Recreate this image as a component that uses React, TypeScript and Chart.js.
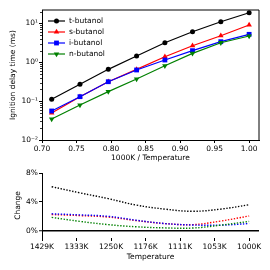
import React, { useEffect, useRef } from "react";
import { Chart, registerables } from "chart.js";

Chart.register(...registerables);

// ---- data ----
const invT = [0.714, 0.755, 0.796, 0.837, 0.878, 0.918, 0.959, 1.0];
const seriesLabels = ["t-butanol", "s-butanol", "i-butanol", "n-butanol"];
const tButanol = [0.111, 0.27, 0.656, 1.44, 3.17, 6.08, 11.0, 18.7];
const sButanol = [0.0494, 0.13, 0.315, 0.656, 1.38, 2.66, 4.8, 9.04];
const iButanol = [0.0557, 0.13, 0.315, 0.631, 1.14, 1.98, 3.37, 5.21];
const nButanol = [0.0347, 0.0794, 0.175, 0.37, 0.81, 1.69, 3.17, 4.72];

const tChange = [6.1, 5.25, 4.45, 3.55, 3.0, 2.7, 3.0, 3.6];
const sChange = [2.25, 2.1, 1.9, 1.4, 1.0, 0.85, 1.35, 2.05];
const iChange = [2.35, 2.2, 2.0, 1.45, 1.0, 0.8, 0.78, 1.0];
const nChange = [1.85, 1.3, 0.85, 0.55, 0.4, 0.38, 0.78, 1.3];

const xTicks = [0.7, 0.75, 0.8, 0.85, 0.9, 0.95, 1.0];
const yMajorTicks = [0.01, 0.1, 1, 10];
const changeTicks = [0, 4, 8];

// ---- style ----
const colors = ["#000000", "#ff0000", "#0000ff", "#008000"];
const pointStyles = ["circle", "triangle", "rect", "triangle"];
const pointRadii = [2.5, 3.2, 3.4, 3.2];
const pointRotations = [0, 0, 0, 180];
const FONT = { family: "'DejaVu Sans', sans-serif", size: 7.5 };

const SUP: Record<string, string> = {
  "0": "⁰", "1": "¹", "2": "²", "3": "³", "4": "⁴",
  "5": "⁵", "6": "⁶", "7": "⁷", "8": "⁸", "9": "⁹", "-": "⁻",
};
const sup = (v: number) => {
  const e = String(Math.round(Math.log10(v)));
  return "10" + e.split("").map((c) => SUP[c]).join("");
};

const framePlugin = {
  id: "frame",
  afterDraw(chart: any) {
    const { ctx, chartArea: a } = chart;
    ctx.save();
    ctx.strokeStyle = "#000";
    ctx.lineWidth = 1;
    ctx.beginPath();
    ctx.moveTo(a.left, a.top);
    ctx.lineTo(a.right, a.top);
    ctx.lineTo(a.right, a.bottom);
    ctx.stroke();
    ctx.restore();
  },
};

const minorTickPlugin = {
  id: "minorTicks",
  afterDraw(chart: any) {
    const s = chart.scales.y;
    const { ctx, chartArea: a } = chart;
    ctx.save();
    ctx.strokeStyle = "#000";
    ctx.lineWidth = 0.8;
    for (let d = -2; d <= 1; d++) {
      for (let m = 2; m <= 9; m++) {
        const v = m * Math.pow(10, d);
        if (v > s.max) continue;
        const y = Math.round(s.getPixelForValue(v)) + 0.5;
        ctx.beginPath();
        ctx.moveTo(a.left - 2, y);
        ctx.lineTo(a.left, y);
        ctx.stroke();
      }
    }
    ctx.restore();
  },
};

function drawMarker(ctx: CanvasRenderingContext2D, ds: any, x: number, y: number) {
  const r = ds.pointRadius;
  const rot = ((ds.pointRotation || 0) * Math.PI) / 180;
  ctx.fillStyle = ds.backgroundColor;
  ctx.beginPath();
  if (ds.pointStyle === "circle") {
    ctx.arc(x, y, r, 0, Math.PI * 2);
  } else if (ds.pointStyle === "rect") {
    const s = Math.SQRT1_2 * r;
    ctx.rect(x - s, y - s, 2 * s, 2 * s);
  } else {
    let rad = rot;
    ctx.moveTo(x + Math.sin(rad) * r, y - Math.cos(rad) * r);
    rad += (2 * Math.PI) / 3;
    ctx.lineTo(x + Math.sin(rad) * r, y - Math.cos(rad) * r);
    rad += (2 * Math.PI) / 3;
    ctx.lineTo(x + Math.sin(rad) * r, y - Math.cos(rad) * r);
    ctx.closePath();
  }
  ctx.fill();
}

const legendPlugin = {
  id: "innerLegend",
  afterDatasetsDraw(chart: any) {
    const { ctx, chartArea: a } = chart;
    ctx.save();
    chart.data.datasets.forEach((ds: any, i: number) => {
      const y = a.top + 11 + i * 11;
      ctx.strokeStyle = ds.borderColor;
      ctx.lineWidth = ds.borderWidth;
      ctx.beginPath();
      ctx.moveTo(a.left + 6, y);
      ctx.lineTo(a.left + 23, y);
      ctx.stroke();
      drawMarker(ctx, ds, a.left + 14.5, y);
      ctx.fillStyle = "#000";
      ctx.font = `${FONT.size}px ${FONT.family}`;
      ctx.textBaseline = "middle";
      ctx.textAlign = "left";
      ctx.fillText(ds.label, a.left + 27, y);
    });
    ctx.restore();
  },
};

export default function App() {
  const topRef = useRef<HTMLCanvasElement>(null);
  const botRef = useRef<HTMLCanvasElement>(null);

  useEffect(() => {
    const topSeries = [tButanol, sButanol, iButanol, nButanol];
    const botSeries = [tChange, sChange, iChange, nChange];

    const top = new Chart(topRef.current!, {
      type: "line",
      data: {
        datasets: topSeries.map((s, i) => ({
          label: seriesLabels[i],
          data: invT.map((x, j) => ({ x, y: s[j] })),
          borderColor: colors[i],
          backgroundColor: colors[i],
          borderWidth: 1.2,
          pointStyle: pointStyles[i],
          pointRadius: pointRadii[i],
          pointRotation: pointRotations[i],
          pointBorderWidth: 0,
          order: 3 - i,
          tension: 0,
        })),
      } as any,
      options: {
        animation: false,
        responsive: false,
        maintainAspectRatio: false,
        layout: { padding: { top: 10, right: 11, left: 0, bottom: 0 } },
        plugins: { legend: { display: false }, tooltip: { enabled: false } },
        scales: {
          x: {
            type: "linear",
            min: 0.7,
            max: 1.0143,
            afterBuildTicks: (s: any) => {
              s.ticks = xTicks.map((v) => ({ value: v }));
            },
            afterFit: (s: any) => {
              s.height = 26;
              s.paddingLeft = 0;
              s.paddingRight = 0;
            },
            ticks: {
              callback: (v: any) => Number(v).toFixed(2),
              color: "#000",
              font: FONT,
              padding: 2,
              maxRotation: 0,
              autoSkip: false,
            },
            grid: { drawOnChartArea: false, tickLength: 3, color: "#000" },
            border: { color: "#000", width: 1 },
            title: {
              display: true,
              text: "1000K / Temperature",
              color: "#000",
              font: FONT,
              padding: { top: 0, bottom: 3.6 },
            },
          },
          y: {
            type: "logarithmic",
            min: 0.01,
            max: 22,
            afterBuildTicks: (s: any) => {
              s.ticks = yMajorTicks.map((v) => ({ value: v }));
            },
            afterFit: (s: any) => {
              s.width = 42;
              s.paddingTop = 0;
              s.paddingBottom = 0;
            },
            ticks: {
              callback: (v: any) => sup(Number(v)),
              color: "#000",
              font: FONT,
              padding: 1,
              autoSkip: false,
            },
            grid: { drawOnChartArea: false, tickLength: 3, color: "#000" },
            border: { color: "#000", width: 1 },
            title: {
              display: true,
              text: "Ignition delay time (ms)",
              color: "#000",
              font: FONT,
              padding: { top: 9, bottom: 0 },
            },
          },
        },
      } as any,
      plugins: [framePlugin, minorTickPlugin, legendPlugin],
    });

    const bot = new Chart(botRef.current!, {
      type: "line",
      data: {
        datasets: botSeries.map((s, i) => ({
          label: seriesLabels[i],
          data: invT.map((x, j) => ({ x, y: s[j] })),
          borderColor: colors[i],
          borderWidth: 1.4,
          borderDash: [1.4, 1.6],
          borderCapStyle: "butt",
          pointRadius: 0,
          order: 3 - i,
          tension: 0.4,
        })),
      } as any,
      options: {
        animation: false,
        responsive: false,
        maintainAspectRatio: false,
        layout: { padding: { top: 7, right: 11, left: 0, bottom: 0 } },
        plugins: { legend: { display: false }, tooltip: { enabled: false } },
        scales: {
          x: {
            type: "linear",
            min: 0.7,
            max: 1.0143,
            afterBuildTicks: (s: any) => {
              s.ticks = xTicks.map((v) => ({ value: v }));
            },
            afterFit: (s: any) => {
              s.height = 32;
              s.paddingLeft = 0;
              s.paddingRight = 0;
            },
            ticks: {
              callback: (v: any) => Math.round(1000 / Number(v)) + "K",
              color: "#000",
              font: FONT,
              padding: 2,
              maxRotation: 0,
              autoSkip: false,
            },
            grid: { drawOnChartArea: false, tickLength: 3, color: "#000" },
            border: { display: false },
            title: {
              display: true,
              text: "Temperature",
              color: "#000",
              font: FONT,
              padding: { top: 0, bottom: 8 },
            },
          },
          y: {
            type: "linear",
            min: -1,
            max: 8,
            afterBuildTicks: (s: any) => {
              s.ticks = changeTicks.map((v) => ({ value: v }));
            },
            afterFit: (s: any) => {
              s.width = 42;
              s.paddingTop = 0;
              s.paddingBottom = 0;
            },
            ticks: {
              callback: (v: any) => Number(v) + "%",
              color: "#000",
              font: FONT,
              padding: 1,
              autoSkip: false,
            },
            grid: {
              drawOnChartArea: true,
              tickLength: 3,
              color: (c: any) => (c.tick && c.tick.value === 0 ? "#000" : "rgba(0,0,0,0)"),
              lineWidth: (c: any) => (c.tick && c.tick.value === 0 ? 1.5 : 1),
              tickColor: "#000",
              tickWidth: 1,
            },
            border: { color: "#000", width: 1 },
            title: {
              display: true,
              text: "Change",
              color: "#000",
              font: FONT,
              padding: { top: 14, bottom: 0 },
            },
          },
        },
      } as any,
    });

    return () => {
      top.destroy();
      bot.destroy();
    };
  }, []);

  return (
    <div style={{ position: "absolute", left: 0, top: 0, width: 270, height: 270, background: "#fff" }}>
      <canvas
        ref={topRef}
        width={270}
        height={166}
        style={{ position: "absolute", left: 0, top: 0, width: 270, height: 166 }}
      />
      <canvas
        ref={botRef}
        width={270}
        height={104}
        style={{ position: "absolute", left: 0, top: 166, width: 270, height: 104 }}
      />
    </div>
  );
}
